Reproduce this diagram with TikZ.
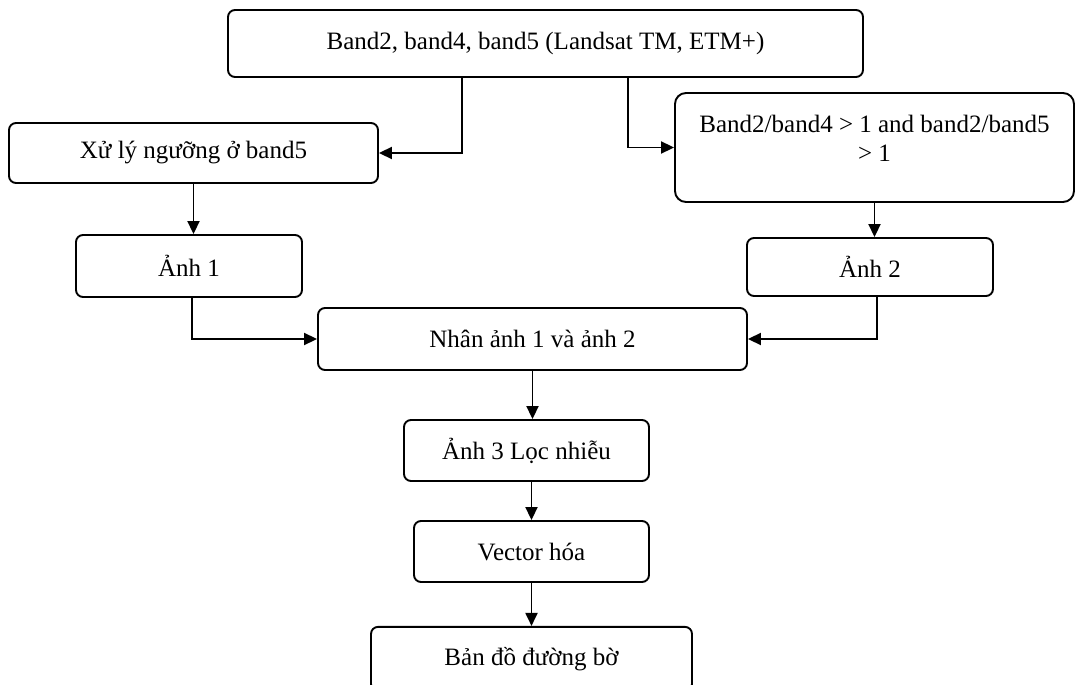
\documentclass[tikz,border=0pt]{standalone}
\usepackage{fontspec}
\setmainfont{Liberation Serif}
\usetikzlibrary{positioning, arrows.meta}

\begin{document}
\begin{tikzpicture}[
    x=1pt, y=-1pt,
    font=\fontsize{25}{28.75}\selectfont,
    >={Triangle[length=13pt, width=12pt]},
    line width=1.9pt,
    % Styles
    proc_box/.style={draw, rounded corners=7pt, align=center, inner sep=0pt},
    tall_box/.style={proc_box, rounded corners=11pt, text height=50pt, text depth=23pt},
    link/.style={->}
]
\clip (0,0) rectangle (1077,685);

% 1. Input bands
\node[proc_box, minimum width=635pt, minimum height=67pt] (bands) at (545.5,43.5)
    {Band2, band4, band5 (Landsat TM, ETM+)};

% 2. Two branches
\node[proc_box, minimum width=369pt, minimum height=60pt] (thresh) at (193.5,153)
    {Xử lý ngưỡng ở band5};
\node[tall_box, minimum width=399pt, minimum height=109pt] (ratio) at (874.5,147.5)
    {Band2/band4 > 1 and band2/band5\\> 1};

% 3. Intermediate images
\node[proc_box, minimum width=226pt, minimum height=62pt] (img1) at (189,266) {Ảnh 1};
\node[proc_box, minimum width=246pt, minimum height=58pt] (img2) at (870,267) {Ảnh 2};

% 4. Merge and post-processing
\node[proc_box, minimum width=429pt, minimum height=62pt] (mult) at (532.5,339)
    {Nhân ảnh 1 và ảnh 2};
\node[proc_box, minimum width=245pt, minimum height=61pt] (img3) at (526.5,450.5)
    {Ảnh 3 Lọc nhiễu};
\node[proc_box, minimum width=235pt, minimum height=61pt] (vect) at (531.5,551.5)
    {Vector hóa};
\node[proc_box, minimum width=321pt, minimum height=64pt, below=43pt of vect] (coast)
    {Bản đồ đường bờ};

% Connectors
\draw[link] ([xshift=-83.5pt]bands.south) |- (thresh.east);
\draw[link] ([xshift=82.5pt]bands.south) |- (ratio.west);
\draw[link] (thresh.south) -- (thresh.south |- img1.north);
\draw[link] (ratio.south) -- (ratio.south |- img2.north);
\draw[link] ([xshift=3pt]img1.south) |- (mult.west);
\draw[link] ([xshift=7pt]img2.south) |- (mult.east);
\draw[link] (mult.south) -- (mult.south |- img3.north);
\draw[link] (vect.north |- img3.south) -- (vect.north);
\draw[link] (vect.south) -- (coast.north);

\end{tikzpicture}
\end{document}
